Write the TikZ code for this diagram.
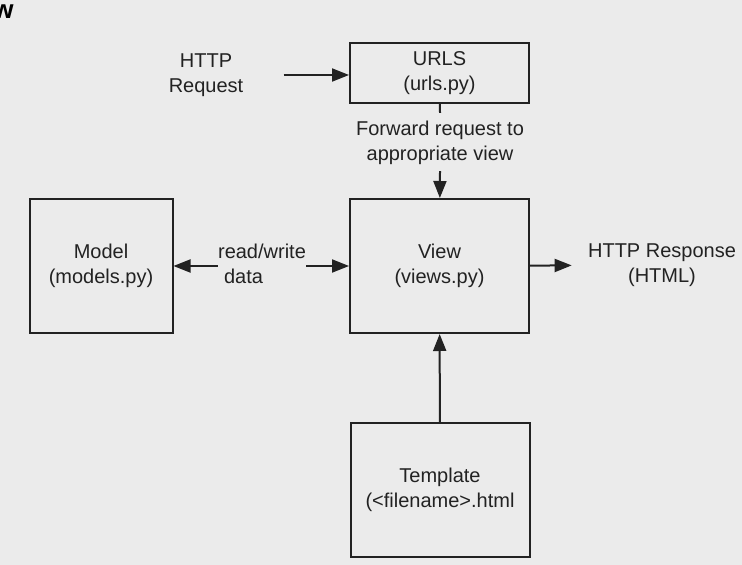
\documentclass[tikz,border=0pt]{standalone}
\usepackage{fontspec}
\setmainfont{Liberation Sans}
\usetikzlibrary{arrows.meta}
\definecolor{canvas}{HTML}{EBEBEB}
\definecolor{ink}{HTML}{222222}
\tikzset{
    plain-box/.style = {draw=ink, line width=1pt, rectangle, minimum width=89.5pt, align=center, text=ink, font=\fontsize{10}{12.5}\selectfont},
    plain-label/.style = {inner sep=0pt, align=center, text=ink, font=\fontsize{10}{12.5}\selectfont},
    flow/.style = {draw=ink, line width=1pt, -{Triangle[length=8.5pt,width=6.5pt]}},
}

\begin{document}
\begin{tikzpicture}[x=0.5pt, y=-0.5pt]
\useasboundingbox (0,0) rectangle (742,565);
\fill[canvas] (0,0) rectangle (742,565);
\node[anchor=west, inner sep=0pt, text=black, font=\bfseries\fontsize{13}{13}\selectfont] (cut) at (-7,12) {w};

\node[plain-box, minimum height=30pt] (urls) at (439.5,73) {URLS\\(urls.py)};
\node[plain-box, minimum height=67pt] (view) at (439.5,266) {View\\(views.py)};
\node[plain-box, minimum height=67pt, minimum width=71.5pt] (model) at (101,266) {Model\\(models.py)};
\node[plain-box, minimum height=67pt] (template) at (440,490) {Template\\(<filename>.html};

\node[plain-label] (request) at (206,75) {HTTP\\Request};
\node[plain-label] (forward) at (440,143) {Forward request to\\appropriate view};
\node[plain-label, align=left] (rw) at (262,264) {read/write\\\hspace{3pt}data};
\node[plain-label, inner xsep=8pt] (response) at (662,265) {HTTP Response\\(HTML)};

\draw[flow, shorten <=20pt] (request.east) -- (request.east -| urls.west);
\draw[draw=ink, line width=1pt] (urls) -- ([yshift=4pt]forward.north);
\draw[flow] ([yshift=-3pt]forward.south) -- (view);
\draw[flow] (rw.west |- model.east) -- (model);
\draw[flow] (rw.east |- view.west) -- (view);
\draw[flow] (view) -- (response);
\draw[flow] (template) -- (view);
\end{tikzpicture}
\end{document}
